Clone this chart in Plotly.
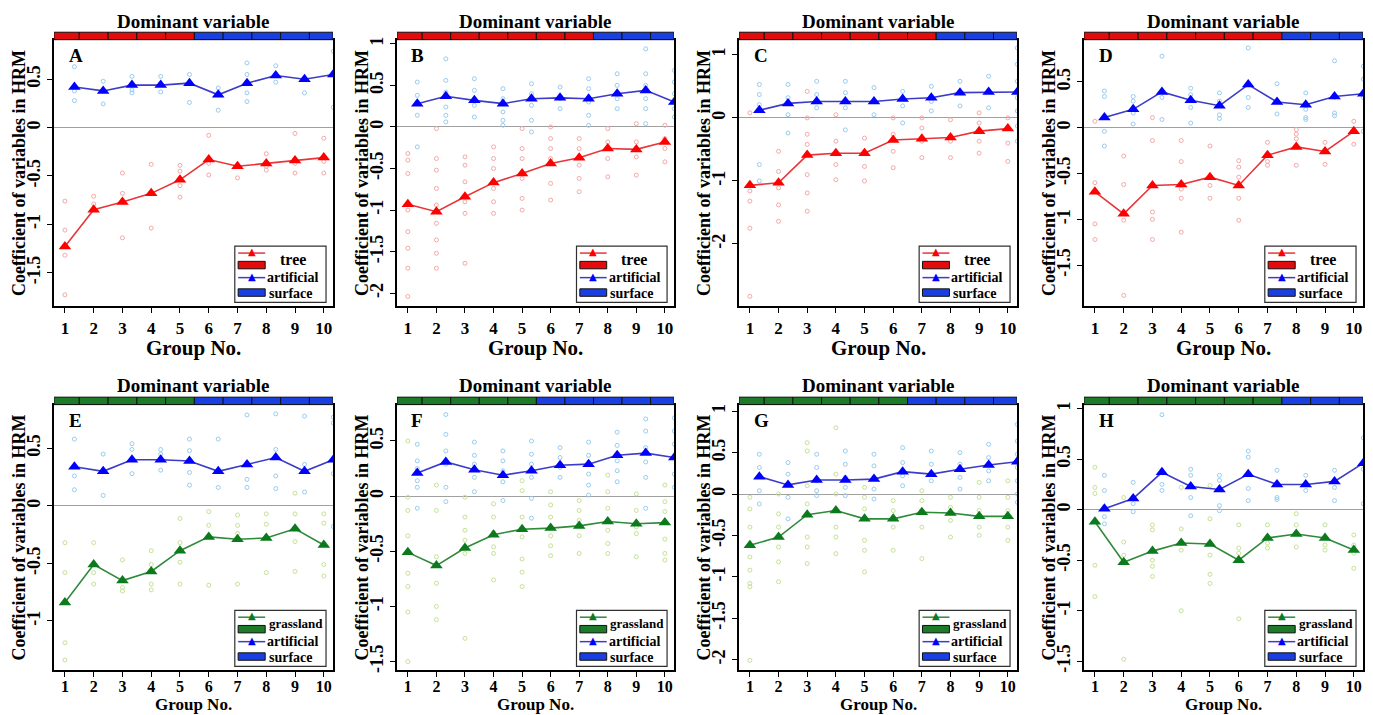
import plotly.graph_objects as go

# ---------------- data ----------------
groups = [1, 2, 3, 4, 5, 6, 7, 8, 9, 10]
ART_OFFSET = 0.33
tick_labels_x = ["1", "2", "3", "4", "5", "6", "7", "8", "9", "10"]

# Panel A (tree vs artificial surface)
A_land = [-1.23, -0.85, -0.77, -0.68, -0.54, -0.33, -0.40, -0.37, -0.34, -0.31]
A_art = [0.42, 0.38, 0.44, 0.44, 0.46, 0.34, 0.46, 0.54, 0.50, 0.55]
A_dom = ["L", "L", "L", "L", "L", "A", "A", "A", "A", "A"]
A_land_pts = [[-0.76, -1.06, -1.32, -1.73], [-0.71, -0.79], [-0.47, -0.68, -1.14], [-0.38, -1.04],
              [-0.39, -0.45, -0.60, -0.72], [-0.08, -0.37, -0.49], [-0.52], [-0.27, -0.40, -0.44],
              [-0.06, -0.37, -0.47], [-0.11, -0.35, -0.47]]
A_art_pts = [[0.63, 0.38, 0.28], [0.48, 0.245], [0.53, 0.39, 0.36], [0.53, 0.37], [0.55, 0.26],
             [0.41, 0.18], [0.67, 0.55, 0.36, 0.27], [0.64, 0.47], [0.36], [0.79, 0.21]]

# Panel B
B_land = [-0.93, -1.02, -0.84, -0.67, -0.56, -0.44, -0.37, -0.26, -0.27, -0.18]
B_art = [0.28, 0.37, 0.32, 0.28, 0.34, 0.35, 0.34, 0.40, 0.44, 0.30]
B_dom = ["L", "L", "L", "L", "L", "L", "L", "A", "A", "A"]
B_land_pts = [[-0.32, -0.40, -0.56, -1.00, -1.26, -1.46, -1.70, -2.04],
              [-0.02, -0.38, -0.52, -0.74, -0.94, -1.16, -1.36, -1.52, -1.70],
              [-0.36, -0.46, -0.66, -0.90, -1.04, -1.64], [-0.24, -0.38, -0.50, -0.74, -0.90, -1.04],
              [-0.02, -0.26, -0.38, -0.62, -0.86, -1.00], [0.00, -0.14, -0.26, -0.38, -0.68, -0.88],
              [-0.14, -0.26, -0.46, -0.62, -0.78], [-0.02, -0.18, -0.38, -0.60],
              [0.04, -0.18, -0.36, -0.58], [0.02, -0.14, -0.26, -0.42]]
B_art_pts = [[0.54, 0.38, 0.30, 0.14, -0.24], [0.82, 0.56, 0.42, 0.24, 0.14, 0.06], [0.58, 0.44, 0.26, 0.12],
             [0.46, 0.34, 0.18, 0.08, 0.02], [0.52, 0.40, 0.26, 0.08, -0.06], [0.48, 0.34, 0.22],
             [0.58, 0.46, 0.30, 0.14, 0.02], [0.64, 0.50, 0.34, 0.22], [0.94, 0.64, 0.50, 0.34, 0.22, 0.04],
             [0.68, 0.54, 0.40, 0.22, 0.12]]

# Panel C
C_land = [-1.07, -1.03, -0.59, -0.56, -0.56, -0.35, -0.33, -0.31, -0.21, -0.17]
C_art = [0.12, 0.23, 0.26, 0.26, 0.26, 0.30, 0.32, 0.40, 0.41, 0.41]
C_dom = ["L", "L", "L", "L", "L", "L", "L", "A", "A", "A"]
C_land_pts = [[0.08, -1.16, -1.32, -1.75, -2.83], [-0.53, -0.85, -1.11, -1.38, -1.64],
              [0.42, 0.00, -0.26, -0.42, -0.90, -1.19, -1.48], [0.05, -0.37, -0.74, -0.98],
              [-0.32, -0.53, -0.77, -1.00], [0.00, -0.26, -0.53, -0.79], [0.00, -0.16, -0.37, -0.63],
              [-0.03, -0.37, -0.63], [0.08, -0.08, -0.37, -0.56], [0.00, -0.40, -0.69]]
C_art_pts = [[0.53, 0.37, 0.21, -0.74, -1.00], [0.53, 0.32, 0.05, -0.24], [0.58, 0.37, 0.16],
             [0.58, 0.40, 0.16, -0.19], [0.48, 0.26, 0.05], [0.42, 0.19, -0.08], [0.50, 0.26, 0.11],
             [0.58, 0.40, 0.19], [0.66, 0.42, 0.16], [1.11, 0.85, 0.58, 0.32, 0.11, -0.13, -0.37]]

# Panel D
D_land = [-0.70, -0.94, -0.63, -0.62, -0.54, -0.63, -0.30, -0.21, -0.26, -0.04]
D_art = [0.11, 0.20, 0.39, 0.30, 0.24, 0.47, 0.28, 0.25, 0.34, 0.37]
D_dom = ["L", "L", "L", "L", "L", "L", "L", "A", "A", "A"]
D_land_pts = [[0.07, -0.60, -1.05, -1.22], [-0.31, -0.62, -1.01, -1.83], [0.11, -0.14, -0.92, -1.00, -1.22],
              [-0.14, -0.37, -0.67, -0.77, -1.14], [-0.20, -0.63, -0.77], [-0.36, -0.43, -0.54, -0.77, -1.01],
              [-0.16, -0.37, -0.41], [-0.02, -0.07, -0.12, -0.41], [-0.16, -0.40], [0.07, -0.18]]
D_art_pts = [[0.40, 0.34, -0.04, -0.20], [0.34, 0.29, 0.16, 0.04], [0.78, 0.33, 0.09], [0.43, 0.36, 0.22, 0.05],
             [0.38, 0.29, 0.14, 0.10], [0.87, 0.33, 0.22], [0.48, 0.29, 0.15], [0.38, 0.20, 0.11, 0.09],
             [0.73, 0.33, 0.16, 0.13], [0.67, 0.53, 0.33, -0.04]]

# Panel E (grassland vs artificial surface)
E_land = [-0.84, -0.51, -0.65, -0.57, -0.39, -0.27, -0.29, -0.28, -0.20, -0.34]
E_art = [0.34, 0.30, 0.40, 0.40, 0.39, 0.30, 0.36, 0.42, 0.30, 0.40]
E_dom = ["L", "L", "L", "L", "L", "A", "A", "A", "A", "A"]
E_land_pts = [[-0.32, -0.58, -1.19, -1.34], [-0.32, -0.58, -0.68], [-0.47, -0.71, -0.74],
              [-0.39, -0.51, -0.68, -0.73], [-0.11, -0.32, -0.49, -0.68], [-0.05, -0.17, -0.69],
              [-0.08, -0.17, -0.24, -0.68], [-0.07, -0.16, -0.58], [0.11, -0.07, -0.31, -0.57],
              [-0.07, -0.15, -0.51, -0.61]]
E_art_pts = [[0.58, 0.26, 0.14], [0.45, 0.09], [0.54, 0.49, 0.28], [0.49, 0.45, 0.31], [0.58, 0.48, 0.29, 0.18],
             [0.58, 0.16], [0.79, 0.23, 0.16], [0.80, 0.49, 0.26, 0.15], [0.78, 0.36, 0.12],
             [0.77, 0.72, 0.28, -0.18]]

# Panel F
F_land = [-0.51, -0.63, -0.47, -0.35, -0.30, -0.29, -0.27, -0.23, -0.25, -0.24]
F_art = [0.21, 0.31, 0.24, 0.19, 0.23, 0.28, 0.29, 0.37, 0.39, 0.35]
F_dom = ["L", "L", "L", "L", "L", "A", "A", "A", "A", "A"]
F_land_pts = [[0.50, -0.01, -0.13, -0.36, -0.70, -0.82, -1.05, -1.50], [0.10, -0.13, -0.55, -0.79, -1.00, -1.12],
              [-0.01, -0.19, -0.31, -0.40, -0.52, -1.29], [-0.07, -0.19, -0.33, -0.46, -0.52, -0.76],
              [0.14, 0.05, -0.19, -0.37, -0.57, -0.69, -0.82], [0.04, -0.08, -0.19, -0.36, -0.45, -0.54],
              [-0.04, -0.13, -0.22, -0.36, -0.52], [0.19, 0.04, -0.11, -0.31, -0.43, -0.52],
              [0.02, -0.13, -0.28, -0.34, -0.55], [0.10, -0.05, -0.14, -0.39, -0.52, -0.58]]
F_art_pts = [[0.47, 0.32, 0.25, 0.14, 0.08, -0.11], [0.74, 0.56, 0.41, 0.29, 0.08, -0.05],
             [0.49, 0.37, 0.29, 0.17, 0.04], [0.41, 0.32, 0.23, 0.13, -0.04],
             [0.50, 0.38, 0.29, 0.17, -0.02, -0.20], [0.44, 0.35, 0.26, 0.17],
             [0.49, 0.37, 0.20, 0.10, 0.01], [0.58, 0.46, 0.32, 0.23, 0.13],
             [0.70, 0.59, 0.44, 0.31, 0.17, -0.11], [0.71, 0.59, 0.47, 0.35, 0.20, 0.08]]

# Panel G
G_land = [-0.62, -0.52, -0.25, -0.20, -0.30, -0.30, -0.22, -0.23, -0.27, -0.27]
G_art = [0.21, 0.11, 0.17, 0.17, 0.18, 0.27, 0.24, 0.30, 0.35, 0.39]
G_dom = ["L", "L", "L", "L", "L", "L", "A", "A", "A", "A"]
G_land_pts = [[-0.04, -0.18, -0.40, -0.76, -0.92, -1.08, -1.12, -2.01], [0.00, -0.24, -0.40, -0.64, -0.82, -1.06],
              [0.62, 0.52, 0.10, -0.12, -0.52, -0.64, -0.84], [0.80, 0.24, 0.00, -0.40, -0.52, -0.72],
              [0.08, -0.04, -0.18, -0.56, -0.68, -0.94], [-0.08, -0.20, -0.40, -0.68],
              [0.04, -0.08, -0.20, -0.40, -0.78], [-0.04, -0.16, -0.32, -0.52],
              [0.14, -0.04, -0.20, -0.40, -0.50], [0.16, -0.04, -0.20, -0.40, -0.56]]
G_art_pts = [[0.48, 0.32, 0.04, -0.12], [0.38, 0.24, 0.12, -0.04, -0.30], [0.48, 0.32, 0.16, 0.04, -0.02],
             [0.52, 0.36, 0.20, 0.08, -0.02], [0.48, 0.34, 0.20, 0.06, -0.06], [0.56, 0.38, 0.22, 0.10],
             [0.52, 0.36, 0.16], [0.50, 0.36, 0.20, 0.06], [0.60, 0.44, 0.28, 0.16],
             [0.84, 0.64, 0.48, 0.32, 0.16, 0.00, -0.10]]

# Panel H
H_land = [-0.12, -0.52, -0.41, -0.33, -0.34, -0.50, -0.28, -0.24, -0.28, -0.40]
H_art = [0.01, 0.11, 0.37, 0.23, 0.20, 0.35, 0.25, 0.25, 0.28, 0.46]
H_dom = ["L", "L", "L", "L", "L", "L", "L", "A", "A", "A"]
H_land_pts = [[0.42, 0.22, 0.16, -0.55, -0.86], [0.12, -0.32, -0.45, -1.48], [-0.15, -0.20, -0.50, -0.56, -0.66],
              [0.22, -0.19, -0.40, -1.00], [0.24, -0.09, -0.45, -0.64, -0.73], [-0.15, -0.38, -0.43, -1.08],
              [-0.15, -0.33, -0.38], [-0.04, -0.15, -0.37], [-0.15, -0.35, -0.40], [-0.25, -0.35, -0.43, -0.58]]
H_art_pts = [[0.34, 0.19, -0.07, -0.14], [0.27, 0.06, -0.02], [0.94, 0.25, 0.19], [0.40, 0.34, 0.12, -0.06],
             [0.34, 0.29, 0.04, -0.01], [0.58, 0.52, 0.21, 0.09], [0.39, 0.12, 0.10], [0.34, 0.19],
             [0.39, 0.22, 0.09], [0.71, 0.40, 0.06]]

panel_letters = ["A", "B", "C", "D", "E", "F", "G", "H"]
land_names = ["tree", "tree", "tree", "tree", "grassland", "grassland", "grassland", "grassland"]
y_ranges = [[-1.85, 0.91], [-2.16, 1.05], [-2.99, 1.24], [-1.95, 0.96],
            [-1.43, 0.88], [-1.58, 0.83], [-2.13, 1.08], [-1.59, 1.04]]
y_ticks = [[-1.5, -1, -0.5, 0, 0.5], [-2, -1.5, -1, -0.5, 0, 0.5, 1], [-2, -1, 0, 1], [-1.5, -1, -0.5, 0, 0.5],
           [-1, -0.5, 0, 0.5], [-1.5, -1, -0.5, 0, 0.5], [-2, -1.5, -1, -0.5, 0, 0.5, 1],
           [-1.5, -1, -0.5, 0, 0.5, 1]]

lands = [A_land, B_land, C_land, D_land, E_land, F_land, G_land, H_land]
arts = [A_art, B_art, C_art, D_art, E_art, F_art, G_art, H_art]
doms = [A_dom, B_dom, C_dom, D_dom, E_dom, F_dom, G_dom, H_dom]
land_pts = [A_land_pts, B_land_pts, C_land_pts, D_land_pts, E_land_pts, F_land_pts, G_land_pts, H_land_pts]
art_pts = [A_art_pts, B_art_pts, C_art_pts, D_art_pts, E_art_pts, F_art_pts, G_art_pts, H_art_pts]

# ---------------- styling ----------------
W, H = 1373, 715
X_RANGE = [0.62, 10.32]
col_px = [(54, 333), (397, 674), (739, 1017), (1084, 1363)]
row_px = [(37, 306), (405, 673)]

RED_LINE, RED_MK, RED_PT, RED_BAR = "#e8353a", "#ff0000", "#f4a8a8", "#e30b0b"
GRN_LINE, GRN_MK, GRN_PT, GRN_BAR = "#2f8a3a", "#0b7a1c", "#c4e295", "#1c7a28"
BLU_LINE, BLU_MK, BLU_PT, BLU_BAR = "#3c3cc8", "#0000ff", "#98ccef", "#1a3fe0"
SERIF = "Liberation Serif"

fig = go.Figure()
shapes, annotations = [], []
layout = {}

for k in range(8):
    r, c = divmod(k, 4)
    x0p, x1p = col_px[c]
    y0p, y1p = row_px[r]
    dom_x = [x0p / W, x1p / W]
    dom_y = [1 - y1p / H, 1 - y0p / H]
    sfx = "" if k == 0 else str(k + 1)
    xa, ya = "x" + sfx, "y" + sfx
    is_grass = land_names[k] == "grassland"
    L_LINE, L_MK, L_PT, L_BAR = (GRN_LINE, GRN_MK, GRN_PT, GRN_BAR) if is_grass else (RED_LINE, RED_MK, RED_PT, RED_BAR)

    # faint individual points
    lx, ly, ax_, ay_ = [], [], [], []
    for g, vals in zip(groups, land_pts[k]):
        lx += [g] * len(vals)
        ly += vals
    for g, vals in zip(groups, art_pts[k]):
        ax_ += [g + ART_OFFSET] * len(vals)
        ay_ += vals
    fig.add_trace(go.Scatter(x=lx, y=ly, mode="markers", xaxis=xa, yaxis=ya, showlegend=False,
                             marker=dict(symbol="circle-open", size=4, color=L_PT, line=dict(width=1))))
    fig.add_trace(go.Scatter(x=ax_, y=ay_, mode="markers", xaxis=xa, yaxis=ya, showlegend=False,
                             marker=dict(symbol="circle-open", size=4, color=BLU_PT, line=dict(width=1))))
    # mean lines
    fig.add_trace(go.Scatter(x=groups, y=lands[k], mode="lines+markers", xaxis=xa, yaxis=ya, showlegend=False,
                             line=dict(color=L_LINE, width=1.6),
                             marker=dict(symbol="triangle-up", size=11, color=L_MK)))
    fig.add_trace(go.Scatter(x=[g + ART_OFFSET for g in groups], y=arts[k], mode="lines+markers", xaxis=xa,
                             yaxis=ya, showlegend=False, cliponaxis=True,
                             line=dict(color=BLU_LINE, width=1.6),
                             marker=dict(symbol="triangle-up", size=11, color=BLU_MK)))

    xtick_font = dict(family=SERIF, size=17 if r == 0 else 16, color="black", weight="bold")
    ytick_font = dict(family=SERIF, size=18, color="black", weight="bold")
    layout["xaxis" + sfx] = dict(domain=dom_x, range=X_RANGE, anchor=ya, tickvals=groups, ticktext=tick_labels_x,
                                 showline=True, mirror=True, linecolor="black", linewidth=1.5, ticks="outside",
                                 ticklen=5, tickcolor="black", tickfont=xtick_font, showgrid=False, zeroline=False,
                                 ticklabelstandoff=0 if r == 0 else -4)
    layout["yaxis" + sfx] = dict(domain=dom_y, range=y_ranges[k], anchor=xa, tickvals=y_ticks[k],
                                 ticktext=[("%g" % v) for v in y_ticks[k]], tickangle=-90,
                                 showline=True, mirror=True, linecolor="black", linewidth=1.5, ticks="outside",
                                 ticklen=5, tickcolor="black", tickfont=ytick_font, showgrid=False,
                                 zeroline=True, zerolinecolor="#a0a0a0", zerolinewidth=1.2)

    # dominant-variable bar
    for g, d in zip(groups, doms[k]):
        shapes.append(dict(type="rect", xref=xa, yref=ya + " domain",
                           x0=max(g - 0.5, X_RANGE[0]), x1=min(g + 0.5, X_RANGE[1]), y0=1.0, y1=1.028,
                           fillcolor=(L_BAR if d == "L" else BLU_BAR), line=dict(color="#101010", width=1)))
    annotations.append(dict(text="<b>Dominant variable</b>", xref=xa + " domain", yref=ya + " domain",
                            x=0.5, y=1.07, showarrow=False, xanchor="center", yanchor="middle",
                            font=dict(family=SERIF, size=19, color="black")))
    # panel letter
    annotations.append(dict(text="<b>%s</b>" % panel_letters[k], xref=xa + " domain", yref=ya + " domain",
                            x=0.045, y=0.94, showarrow=False, xanchor="left", yanchor="middle",
                            font=dict(family=SERIF, size=19, color="black")))
    # axis titles
    annotations.append(dict(text="<b>Coefficient of variables in HRM</b>", xref="paper", yref=ya + " domain",
                            x=(x0p - 35) / W, y=0.5, showarrow=False, textangle=-90, xanchor="center",
                            yanchor="middle", font=dict(family=SERIF, size=18, color="black")))
    annotations.append(dict(text="<b>Group No.</b>", xref=xa + " domain", yref="paper",
                            x=0.5, y=1 - (y1p + (42 if r == 0 else 34)) / H, showarrow=False,
                            xanchor="center", yanchor="middle",
                            font=dict(family=SERIF, size=21 if r == 0 else 17, color="black")))

    # legend box
    shapes.append(dict(type="rect", xref=xa + " domain", yref=ya + " domain", x0=0.648, x1=0.975, y0=0.015,
                       y1=0.226, fillcolor="white", line=dict(color="#303030", width=1.2), layer="above"))
    for (yl, col) in [(0.2, L_LINE), (0.108, BLU_LINE)]:
        shapes.append(dict(type="line", xref=xa + " domain", yref=ya + " domain", x0=0.66, x1=0.757,
                           y0=yl, y1=yl, line=dict(color=col, width=1.5), layer="above"))
    for (yr, col) in [(0.155, L_BAR), (0.052, BLU_BAR)]:
        shapes.append(dict(type="rect", xref=xa + " domain", yref=ya + " domain", x0=0.66, x1=0.757,
                           y0=yr - 0.014, y1=yr + 0.014, fillcolor=col, line=dict(color="#101010", width=1),
                           layer="above"))
    for (yl, col) in [(0.2, L_MK), (0.108, BLU_MK)]:
        annotations.append(dict(text="▲", xref=xa + " domain", yref=ya + " domain", x=0.708, y=yl + 0.006,
                                showarrow=False, xanchor="center", yanchor="middle",
                                font=dict(family="DejaVu Sans", size=10, color=col)))
    if is_grass:
        annotations.append(dict(text="<b>grassland</b>", xref=xa + " domain", yref=ya + " domain", x=0.762,
                                y=0.176, showarrow=False, xanchor="left", yanchor="middle",
                                font=dict(family=SERIF, size=13, color="black")))
    else:
        annotations.append(dict(text="<b>tree</b>", xref=xa + " domain", yref=ya + " domain", x=0.855,
                                y=0.176, showarrow=False, xanchor="center", yanchor="middle",
                                font=dict(family=SERIF, size=16, color="black")))
    annotations.append(dict(text="<b>artificial</b>", xref=xa + " domain", yref=ya + " domain", x=0.757,
                            y=0.11, showarrow=False, xanchor="left", yanchor="middle",
                            font=dict(family=SERIF, size=14, color="black")))
    annotations.append(dict(text="<b>surface</b>", xref=xa + " domain", yref=ya + " domain", x=0.762,
                            y=0.048, showarrow=False, xanchor="left", yanchor="middle",
                            font=dict(family=SERIF, size=14, color="black")))

fig.update_layout(width=W, height=H, margin=dict(l=0, r=0, t=0, b=0), paper_bgcolor="white",
                  plot_bgcolor="white", showlegend=False, shapes=shapes, annotations=annotations, **layout)
fig.write_html("out.html")
